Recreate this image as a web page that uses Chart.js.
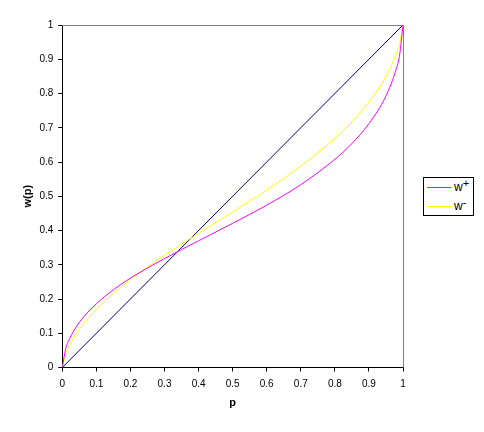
<!DOCTYPE html>
<html>
<head>
<meta charset="utf-8">
<script src="https://cdn.jsdelivr.net/npm/chart.js@4.4.1/dist/chart.umd.min.js"></script>
<style>
  html, body { margin: 0; padding: 0; background: #fff; }
  #wrap { position: relative; width: 484px; height: 432px; }
  #legend {
    position: absolute; left: 423px; top: 177px; width: 49px; height: 37px;
    border: 1px solid #000; background: #fff;
    font-family: "Liberation Sans", Arial, sans-serif; font-size: 12px; color: #000;
  }
  #legend .sw { position: absolute; left: 3px; width: 24px; height: 0; border-top: 1px solid; }
  #legend .lbl { position: absolute; left: 30px; white-space: nowrap; color: #000; line-height: 12px; }
  #legend .lbl span { position: relative; top: -4px; font-size: 11px; }
</style>
</head>
<body>
<div id="wrap">
  <canvas id="c" width="484" height="432"></canvas>
  <div id="legend"></div>
</div>
<script>
// Вероятностные веса w(p): значения
const pVals   = [0, 0.01, 0.02, 0.05, 0.1, 0.15, 0.2, 0.3, 0.4, 0.5, 0.6, 0.7, 0.8, 0.85, 0.9, 0.95, 0.98, 0.99, 1];
const wPlus   = [0, 0.055, 0.081, 0.132, 0.186, 0.227, 0.261, 0.318, 0.370, 0.421, 0.474, 0.534, 0.608, 0.654, 0.712, 0.793, 0.871, 0.912, 1];
const wMinus  = [0, 0.040, 0.062, 0.112, 0.170, 0.217, 0.257, 0.328, 0.392, 0.454, 0.518, 0.588, 0.669, 0.717, 0.775, 0.850, 0.915, 0.945, 1];
const diagP   = [0, 1];
const diagW   = [0, 1];
const tickVals = [0, 0.1, 0.2, 0.3, 0.4, 0.5, 0.6, 0.7, 0.8, 0.9, 1];
const tickLabels = ["0", "0.1", "0.2", "0.3", "0.4", "0.5", "0.6", "0.7", "0.8", "0.9", "1"];

const FONT = "'Liberation Sans', Arial, sans-serif";
const pts = (xs, ys) => xs.map((x, i) => ({ x, y: ys[i] }));

const series = [
  { label: "w", sup: "+", data: pts(pVals, wPlus), color: "#ff00ff", legend: true },
  { label: "w", sup: "-", data: pts(pVals, wMinus), color: "#ffff00", legend: true },
  { label: "p", sup: "", data: pts(diagP, diagW), color: "#000080", legend: false },
];

// серая рамка сверху и справа, как в Excel
const frame = {
  id: "frame",
  beforeDatasetsDraw(chart) {
    const { ctx, chartArea: a } = chart;
    ctx.save();
    ctx.strokeStyle = "#808080";
    ctx.lineWidth = 1;
    ctx.beginPath();
    ctx.moveTo(a.left, a.top + 0.5);
    ctx.lineTo(a.right + 0.5, a.top + 0.5);
    ctx.lineTo(a.right + 0.5, a.bottom);
    ctx.stroke();
    ctx.restore();
  },
};

const axisTicks = (pad) => ({
  font: { family: FONT, size: 10 }, color: "#000", padding: pad,
  autoSkip: false, maxRotation: 0,
  callback: (v) => tickLabels[tickVals.indexOf(+v.toFixed(1))] ?? "",
});

new Chart(document.getElementById("c"), {
  type: "line",
  data: {
    datasets: series.map((s) => ({
      label: s.label + s.sup, data: s.data, borderColor: s.color, backgroundColor: s.color,
      borderWidth: 1, pointRadius: 0, fill: false, cubicInterpolationMode: "monotone",
    })),
  },
  options: {
    responsive: false, animation: false, devicePixelRatio: 1,
    layout: { padding: { top: 25, right: 81, left: 0, bottom: 0 } },
    plugins: { legend: { display: false }, tooltip: { enabled: false } },
    scales: {
      x: {
        type: "linear", min: 0, max: 1,
        afterBuildTicks: (s) => { s.ticks = tickVals.map((v) => ({ value: v })); },
        afterFit: (s) => { s.height = 64.5; },
        ticks: axisTicks(7),
        grid: { drawOnChartArea: false, drawTicks: true, tickLength: 4, color: "#000" },
        border: { color: "#000", width: 1 },
        title: { display: true, text: "p", font: { family: FONT, size: 11, weight: "bold" }, color: "#000", padding: { top: 0, bottom: 22 } },
      },
      y: {
        type: "linear", min: 0, max: 1,
        afterBuildTicks: (s) => { s.ticks = tickVals.map((v) => ({ value: v })); },
        afterFit: (s) => { s.width = 62.3; },
        ticks: axisTicks(5),
        grid: { drawOnChartArea: false, drawTicks: true, tickLength: 4, color: "#000" },
        border: { color: "#000", width: 1 },
        title: { display: true, text: "w(p)", font: { family: FONT, size: 11, weight: "bold" }, color: "#000", padding: { top: 21, bottom: 0 } },
      },
    },
  },
  plugins: [frame],
});

// легенда в рамке справа
const leg = document.getElementById("legend");
series.filter((s) => s.legend).forEach((s, i) => {
  const y = 9 + i * 19;
  leg.insertAdjacentHTML("beforeend",
    `<div class="sw" style="top:${y}px;border-color:${s.color}"></div>` +
    `<div class="lbl" style="top:${y - 6}px">${s.label}<span>${s.sup}</span></div>`);
});
</script>
</body>
</html>
